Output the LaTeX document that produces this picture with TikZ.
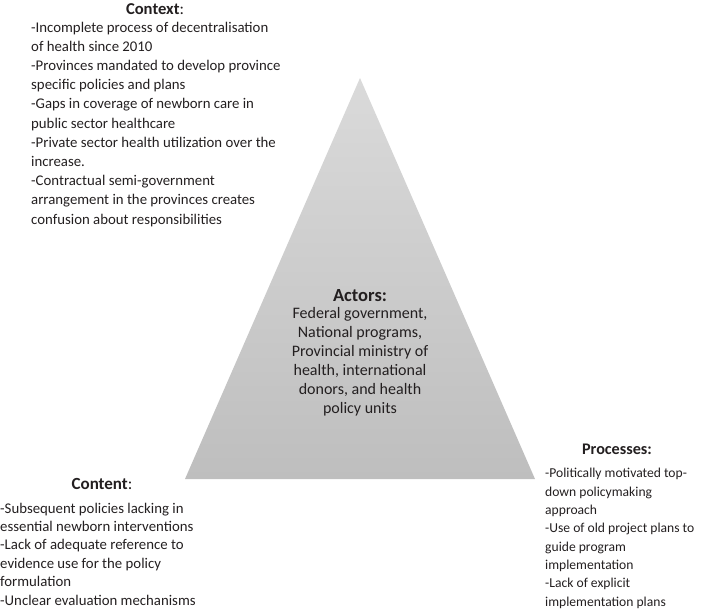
\documentclass[tikz,border=0pt]{standalone}
\usepackage{fontspec}
\setmainfont{Carlito}
\definecolor{inkgray}{RGB}{35,31,32}
\definecolor{apexgray}{RGB}{218,218,218}
\definecolor{basegray}{RGB}{190,190,190}
\begin{document}
\begin{tikzpicture}[x=1pt,y=-1pt]
\tikzstyle{every node}+=[inner sep=0pt, text=inkgray, font=\fontsize{14.8}{19.2}\selectfont]
\tikzstyle{heading}=[anchor=base, font=\fontsize{16.6}{19}\selectfont]
\tikzstyle{notes}=[anchor=base west, align=left]
\useasboundingbox (0,0) rectangle (707,611);
% triangle
\shade [top color=apexgray, bottom color=basegray] (360,78) -- (535,479) -- (185,479) -- cycle;
% context
\node [heading] (contexthead) at (155,14) {\textbf{Context}:};
\node [notes] (context) at (31,224) {-Incomplete process of decentralisation\\of health since 2010\\-Provinces mandated to develop province\\specific policies and plans\\-Gaps in coverage of newborn care in\\public sector healthcare\\-Private sector health utilization over the\\increase.\\-Contractual semi-government\\arrangement in the provinces creates\\confusion about responsibilities};
% actors
\node [heading, align=center, font=\fontsize{16}{19}\selectfont] (actors) at (360,413) {{\fontsize{18.5}{19}\selectfont\textbf{Actors:}}\\[-2pt]Federal government,\\National programs,\\Provincial ministry of\\health, international\\donors, and health\\policy units};
% content
\node [heading, font=\fontsize{17}{19}\selectfont] (contenthead) at (102,489) {\textbf{Content}:};
\node [notes, font=\fontsize{14.8}{18.4}\selectfont] (content) at (0,605) {-Subsequent policies lacking in\\essential newborn interventions\\-Lack of adequate reference to\\evidence use for the policy\\formulation\\-Unclear evaluation mechanisms};
% processes
\node [heading, font=\fontsize{16.2}{19}\selectfont] (processhead) at (617,454) {\textbf{Processes:}};
\node [notes, font=\fontsize{13.6}{18.3}\selectfont] (processes) at (545,606) {-Politically motivated top-\\down policymaking\\approach\\-Use of old project plans to\\guide program\\implementation\\-Lack of explicit\\implementation plans};
\end{tikzpicture}
\end{document}
